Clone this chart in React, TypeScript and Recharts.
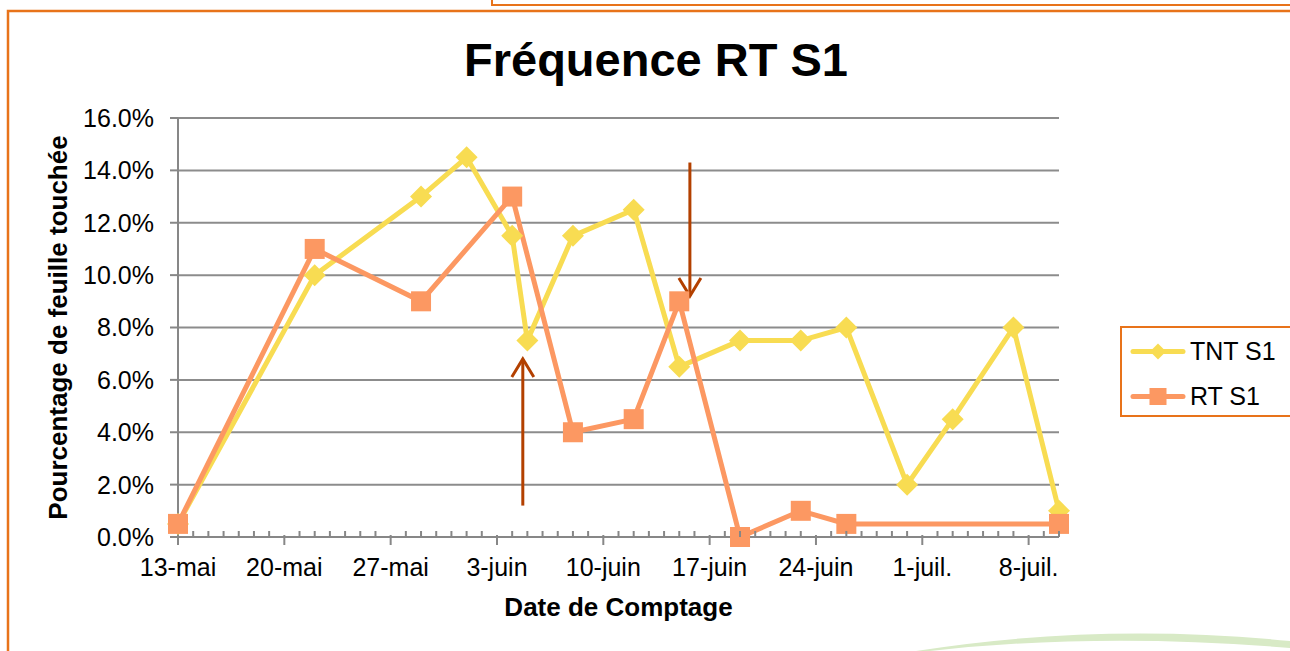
import React from "react"
import {
  LineChart, Line, XAxis, YAxis, CartesianGrid, Legend, ReferenceLine,
} from "recharts"

// counting dates (day 0 = 13 May)
const startDate = "2013-05-13"

const tntDates = [
  "2013-05-13", "2013-05-22", "2013-05-29", "2013-06-01", "2013-06-04", "2013-06-05",
  "2013-06-08", "2013-06-12", "2013-06-15", "2013-06-19", "2013-06-23", "2013-06-26",
  "2013-06-30", "2013-07-03", "2013-07-07", "2013-07-10",
]
const tntValues = [0.5, 10.0, 13.0, 14.5, 11.5, 7.5, 11.5, 12.5, 6.5, 7.5, 7.5, 8.0, 2.0, 4.5, 8.0, 1.0]

const rtDates = [
  "2013-05-13", "2013-05-22", "2013-05-29", "2013-06-04", "2013-06-08", "2013-06-12",
  "2013-06-15", "2013-06-19", "2013-06-23", "2013-06-26", "2013-07-10",
]
const rtValues = [0.5, 11.0, 9.0, 13.0, 4.0, 4.5, 9.0, 0.0, 1.0, 0.5, 0.5]

const weekLabels = ["13-mai", "20-mai", "27-mai", "3-juin", "10-juin", "17-juin", "24-juin", "1-juil.", "8-juil."]
const yTicks = [0, 2, 4, 6, 8, 10, 12, 14, 16]
const lastDay = 58

// annotation arrows: day offset, start value, tip value
const arrowDays = [22.7, 33.7]
const arrowFrom = [1.2, 14.3]
const arrowTo = [6.8, 9.2]

const FONT = "'Liberation Sans', Arial, sans-serif"
const AXIS = "#878787"
const GRID = "#8c8c8c"
const YELLOW = "#F8DC52"
const ORANGE = "#FC9862"
const FRAME = "#E8731A"
const ARROW = "#B34000"

function dayOf(d: string): number {
  return Math.round((Date.parse(d) - Date.parse(startDate)) / 86400000)
}

const tntData = tntDates.map((d, i) => ({ day: dayOf(d), v: tntValues[i] }))
const rtData = rtDates.map((d, i) => ({ day: dayOf(d), v: rtValues[i] }))
const dayTicks = Array.from({ length: lastDay + 1 }, (_, i) => i)

function DayTick({ x, y, payload }: any) {
  const d = payload.value
  const major = d % 7 === 0
  const label = major ? weekLabels[d / 7] : undefined
  return (
    <g>
      {major
        ? <line x1={x} y1={y - 2} x2={x} y2={y + 8} stroke={AXIS} strokeWidth={2} />
        : <line x1={x} y1={y - 6} x2={x} y2={y} stroke={AXIS} strokeWidth={2} />}
      {label && (
        <text x={x} y={y + 39} textAnchor="middle" fontSize={25} fill="#000" fontFamily={FONT}>
          {label}
        </text>
      )}
    </g>
  )
}

function diamondDot(p: any) {
  const { cx, cy, index } = p
  if (cx == null || cy == null) return <g key={index} />
  const h = 11
  return (
    <polygon
      key={index}
      points={`${cx},${cy - h} ${cx + h},${cy} ${cx},${cy + h} ${cx - h},${cy}`}
      fill={YELLOW}
    />
  )
}

function squareDot(p: any) {
  const { cx, cy, index } = p
  if (cx == null || cy == null) return <g key={index} />
  const s = 20
  return <rect key={index} x={cx - s / 2} y={cy - s / 2} width={s} height={s} fill={ORANGE} />
}

function Arrow({ x1, y1, x2, y2 }: any) {
  const dx = x2 - x1
  const dy = y2 - y1
  const len = Math.sqrt(dx * dx + dy * dy) || 1
  const ux = dx / len
  const uy = dy / len
  const back = 18
  const half = 11
  const bx = x2 - ux * back
  const by = y2 - uy * back
  const px = -uy * half
  const py = ux * half
  return (
    <g>
      <line x1={x1} y1={y1} x2={x2} y2={y2} stroke={ARROW} strokeWidth={3} />
      <polyline
        points={`${bx + px},${by + py} ${x2},${y2} ${bx - px},${by - py}`}
        fill="none"
        stroke={ARROW}
        strokeWidth={3}
      />
    </g>
  )
}

function LegendBox({ payload }: any) {
  return (
    <div
      style={{
        width: "100%", height: "100%", boxSizing: "border-box",
        border: `2px solid ${FRAME}`, borderRight: "none", background: "#fff",
        paddingTop: 1, fontFamily: FONT,
      }}
    >
      {(payload || []).map((entry: any, i: number) => (
        <div key={i} style={{ display: "flex", alignItems: "center", height: 45 }}>
          <svg width={68} height={45} style={{ marginLeft: 8, display: "block" }}>
            <line x1={3} y1={22.5} x2={53} y2={22.5} stroke={entry.color} strokeWidth={5} strokeLinecap="round" />
            {entry.type === "diamond"
              ? <polygon points="28,14.5 36,22.5 28,30.5 20,22.5" fill={entry.color} />
              : <rect x={19.5} y={14} width={17} height={17} fill={entry.color} />}
          </svg>
          <span style={{ fontSize: 25, color: "#000", marginLeft: -8, lineHeight: "45px" }}>{entry.value}</span>
        </div>
      ))}
    </div>
  )
}

export default function App() {
  return (
    <div style={{ position: "absolute", left: 0, top: 0, width: 1290, height: 651, overflow: "hidden", background: "#fff" }}>
      <LineChart
        width={1290}
        height={651}
        margin={{ top: 118, right: 231, bottom: 54, left: 0 }}
      >
        <CartesianGrid vertical={false} stroke={GRID} strokeWidth={2} />
        <XAxis
          dataKey="day"
          type="number"
          domain={[0, lastDay]}
          ticks={dayTicks}
          interval={0}
          allowDuplicatedCategory={false}
          height={60}
          tickSize={0}
          tickMargin={0}
          tickLine={false}
          axisLine={{ stroke: AXIS, strokeWidth: 2 }}
          tick={<DayTick />}
          label={{
            content: ({ viewBox }: any) => (
              <text
                x={viewBox.x + viewBox.width / 2}
                y={viewBox.y + 79}
                textAnchor="middle"
                fontSize={26}
                fontWeight="bold"
                fontFamily={FONT}
                fill="#000"
              >
                Date de Comptage
              </text>
            ),
          }}
        />
        <YAxis
          type="number"
          domain={[0, 16]}
          ticks={yTicks}
          width={178}
          tickSize={8}
          tickMargin={16}
          tickFormatter={(v: number) => `${v.toFixed(1)}%`}
          tick={{ fontSize: 25, fill: "#000", fontFamily: FONT }}
          tickLine={{ stroke: AXIS, strokeWidth: 2 }}
          axisLine={{ stroke: AXIS, strokeWidth: 2 }}
          label={{
            content: ({ viewBox }: any) => (
              <text
                transform={`translate(${viewBox.x + 58}, ${viewBox.y + viewBox.height / 2}) rotate(-90)`}
                textAnchor="middle"
                dominantBaseline="central"
                fontSize={26}
                fontWeight="bold"
                fontFamily={FONT}
                fill="#000"
              >
                Pourcentage de feuille touchée
              </text>
            ),
          }}
        />
        <Line
          data={tntData}
          dataKey="v"
          name="TNT S1"
          type="linear"
          stroke={YELLOW}
          strokeWidth={5}
          dot={diamondDot}
          activeDot={false}
          legendType="diamond"
          isAnimationActive={false}
        />
        <Line
          data={rtData}
          dataKey="v"
          name="RT S1"
          type="linear"
          stroke={ORANGE}
          strokeWidth={5}
          dot={squareDot}
          activeDot={false}
          legendType="square"
          isAnimationActive={false}
        />
        {arrowDays.map((d, i) => (
          <ReferenceLine
            key={`arrow-${i}`}
            segment={[{ x: d, y: arrowFrom[i] }, { x: d, y: arrowTo[i] }]}
            stroke={ARROW}
            shape={(p: any) => <Arrow {...p} />}
            ifOverflow="visible"
          />
        ))}
        <Legend
          layout="vertical"
          align="center"
          verticalAlign="middle"
          itemSorter={null as any}
          content={<LegendBox />}
          wrapperStyle={{ left: 1120, top: 326, width: 190, height: 91 }}
        />
      </LineChart>
      <svg
        width={1290}
        height={651}
        style={{ position: "absolute", left: 0, top: 0, pointerEvents: "none" }}
      >
        <polyline points="492,0 492,5 1290,5" fill="none" stroke={FRAME} strokeWidth={2} />
        <polyline points="8,651 8,11 1290,11" fill="none" stroke={FRAME} strokeWidth={2.5} />
        <text x={656} y={76} textAnchor="middle" fontSize={47} fontWeight="bold" fontFamily={FONT} fill="#000">
          Fréquence RT S1
        </text>
        <path
          d="M 916 651 Q 1100 622 1290 641 L 1290 648 Q 1100 632 930 651 Z"
          fill="#D8EAC6"
        />
      </svg>
    </div>
  )
}
